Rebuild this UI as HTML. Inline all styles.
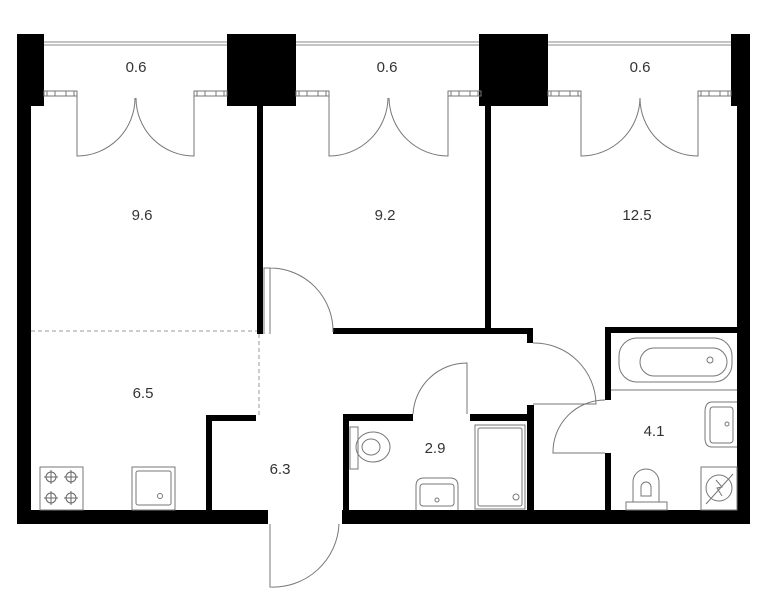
<!DOCTYPE html>
<html><head><meta charset="utf-8"><style>
html,body{margin:0;padding:0;background:#fff;}
svg{display:block;}
text{font-family:"Liberation Sans",sans-serif;font-size:15px;fill:#333;text-anchor:middle;}
</style></head><body>
<svg width="773" height="600" viewBox="0 0 773 600" xmlns="http://www.w3.org/2000/svg">
<line x1="44" y1="42" x2="731" y2="42" stroke="#888" stroke-width="1"/>
<line x1="44" y1="45" x2="731" y2="45" stroke="#888" stroke-width="1"/>
<g fill="#000">
<rect x="17" y="34" width="27" height="72"/>
<rect x="17" y="34" width="14" height="490"/>
<rect x="227" y="34" width="69" height="72"/>
<rect x="479" y="34" width="69" height="72"/>
<rect x="731" y="34" width="19" height="72"/>
<rect x="737" y="34" width="13" height="490"/>
<rect x="257" y="106" width="6" height="228"/>
<rect x="485" y="106" width="6" height="222"/>
<rect x="333" y="328" width="200" height="6"/>
<rect x="527" y="328" width="6" height="15"/>
<rect x="527" y="405" width="7" height="105"/>
<rect x="605" y="327" width="132" height="6"/>
<rect x="605" y="327" width="6" height="73"/>
<rect x="605" y="453" width="6" height="57"/>
<rect x="206" y="415" width="50" height="6"/>
<rect x="206" y="415" width="6" height="95"/>
<rect x="343" y="414" width="70" height="7"/>
<rect x="343" y="414" width="6" height="96"/>
<rect x="470" y="414" width="63" height="7"/>
<rect x="17" y="510" width="251" height="14"/>
<rect x="342" y="510" width="408" height="14"/>
</g>
<g fill="none" stroke="#777" stroke-width="1">
<rect x="44" y="91" width="33" height="5"/><rect x="194" y="91" width="33" height="5"/>
<rect x="296" y="91" width="33" height="5"/><rect x="448" y="91" width="33" height="5"/>
<rect x="548" y="91" width="33" height="5"/><rect x="698" y="91" width="33" height="5"/>
<path d="M47 91v5M55 91v5M66 91v5M74 91v5M197 91v5M205 91v5M216 91v5M224 91v5"/>
<path d="M299 91v5M307 91v5M318 91v5M326 91v5M451 91v5M459 91v5M470 91v5M478 91v5"/>
<path d="M551 91v5M559 91v5M570 91v5M578 91v5M701 91v5M709 91v5M720 91v5M728 91v5"/>
<path d="M77 96V156A58 58 0 0 0 135 98M194 96V156A58 58 0 0 1 136 98"/>
<path d="M329 96V156A59 59 0 0 0 388 98M448 96V156A59 59 0 0 1 389 98"/>
<path d="M581 96V156A59 59 0 0 0 640 98M698 96V156A58 58 0 0 1 640 98"/>
<path d="M264 334V268H270V334M270 268A63 63 0 0 1 333 332"/>
<path d="M533 343H534A62 62 0 0 1 596 404H533"/>
<path d="M605 400A52 52 0 0 0 553 453H605"/>
<path d="M467 414V363A54 54 0 0 0 413 414"/>
<path d="M270 524V587A66 66 0 0 0 339 524"/>
<path d="M31 331H257M259 334V418" stroke-dasharray="4 3" stroke="#999"/>
<rect x="40" y="467" width="43" height="43"/>
<rect x="132" y="467" width="43" height="43"/><rect x="136" y="471" width="35" height="34" rx="2"/>
<circle cx="160" cy="496" r="2.5"/>
<g stroke="#666">
<circle cx="51" cy="477" r="5"/><circle cx="71" cy="477" r="5"/><circle cx="51" cy="498" r="5"/><circle cx="71" cy="498" r="5"/>
<path d="M44 477h14M51 470v14M64 477h14M71 470v14M44 498h14M51 491v14M64 498h14M71 491v14"/>
</g>
<rect x="350" y="427" width="8" height="42"/>
<ellipse cx="373" cy="447" rx="17" ry="15"/><ellipse cx="371" cy="447" rx="9" ry="8"/>
<path d="M416 510V486Q416 478 424 478H450Q458 478 458 486V510"/>
<rect x="420" y="484" width="34" height="22" rx="3"/><circle cx="437" cy="500" r="2"/>
<rect x="475" y="425" width="50" height="84"/><rect x="478" y="428" width="44" height="78" rx="2"/>
<circle cx="516" cy="497" r="3"/>
<path d="M611 390H737"/>
<rect x="619" y="338" width="113" height="44" rx="18"/>
<rect x="640" y="348" width="87" height="28" rx="14"/>
<circle cx="710" cy="360" r="3"/>
<path d="M737 402H712Q705 402 705 412V438Q705 447 712 447H737"/>
<rect x="710" y="407" width="23" height="36" rx="3"/><circle cx="727" cy="424" r="2"/>
<rect x="701" y="467" width="36" height="43"/>
<circle cx="719" cy="488" r="13"/><path d="M706 504L733 474M716 480l6 7-5 1 5 8"/>
<path d="M633 502V482A13 13 0 0 1 659 482V502Z"/><path d="M641 496V487A5 5 0 0 1 651 487V496Z"/>
<rect x="626" y="502" width="41" height="8"/>
</g>
<text x="136" y="72">0.6</text>
<text x="387" y="72">0.6</text>
<text x="640" y="72">0.6</text>
<text x="142" y="220">9.6</text>
<text x="385" y="220">9.2</text>
<text x="637" y="220">12.5</text>
<text x="143" y="398">6.5</text>
<text x="280" y="474">6.3</text>
<text x="435" y="453">2.9</text>
<text x="654" y="436">4.1</text>
</svg>
</body></html>
